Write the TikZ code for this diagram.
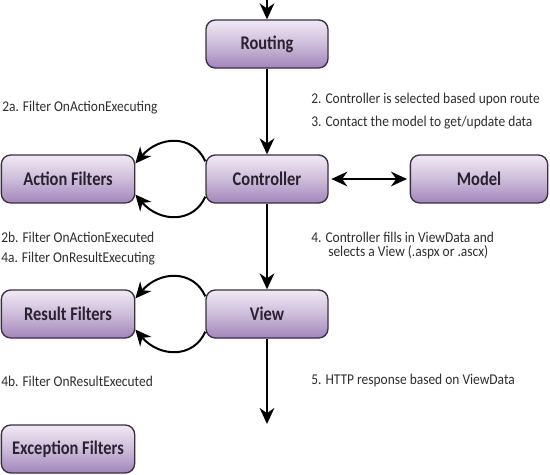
\documentclass[tikz,border=0pt]{standalone}
\usepackage{fontspec}
\setmainfont[FakeStretch=0.9]{Carlito}
\newfontfamily\boxfont[FakeStretch=0.85]{Carlito}
\usetikzlibrary{arrows.meta,calc}
\definecolor{boxtop}{HTML}{F1E9F5}
\definecolor{boxbot}{HTML}{A285BA}
\definecolor{boxline}{HTML}{3A3040}
\definecolor{txt}{HTML}{2E2E2E}
\definecolor{boxtxt}{HTML}{2A2230}
\tikzset{
  stepbox/.style={draw=boxline, line width=1pt, rounded corners=7pt,
    top color=boxtop, bottom color=boxbot, middle color=boxtop!55!boxbot,
    minimum width=91.5pt, minimum height=36pt, inner sep=0pt,
    font=\boxfont\bfseries\fontsize{14.5pt}{16pt}\selectfont, text=boxtxt},
  widebox/.style={stepbox, minimum width=100pt},
  lbl/.style={font=\fontsize{11.2pt}{12pt}\selectfont, text=txt, anchor=west, inner sep=0pt},
  conn/.style={line width=1.5pt, -{Stealth[length=12pt,width=11pt]}},
  bothconn/.style={line width=1.5pt, {Stealth[length=12pt,width=11pt]}-{Stealth[length=12pt,width=11pt]}},
}
\begin{document}
\begin{tikzpicture}[x=0.75pt,y=-0.75pt]
\useasboundingbox (0,0) rectangle (550,475);
\node[stepbox] (routing) at (267,44) {Routing};
\node[stepbox] (ctrl) at (267,179) {Controller};
\node[widebox] (af) at (68,179) {Action Filters};
\node[stepbox, minimum width=103pt] (model) at (479,179) {Model};
\node[stepbox] (view) at (267,314) {View};
\node[widebox] (rf) at (68,314) {Result Filters};
\node[widebox] (ef) at (68,449) {Exception Filters};
\coordinate (top) at (267,-2);
\coordinate (bottom) at (267,424);

\draw[conn] (top) -- (routing.north);
\draw[conn] (routing) -- (ctrl);
\draw[conn] (ctrl) -- (view);
\draw[conn] (view.south) -- (bottom);
\draw[bothconn] ($(ctrl.east)+(2pt,0)$) -- ($(model.west)+(-2pt,0)$);

\draw[conn] (ctrl.164) .. controls +(-12,-27) and +(24,-28) .. (af.13);
\draw[conn] (ctrl.196) .. controls +(-12,27) and +(24,28) .. (af.347);
\draw[conn] (view.164) .. controls +(-12,-27) and +(24,-28) .. (rf.13);
\draw[conn] (view.196) .. controls +(-12,27) and +(24,28) .. (rf.347);

\node[lbl] (l2a) at (2,108) {2a. Filter OnActionExecuting};
\node[lbl] (l2) at (311,100) {2. Controller is selected based upon route};
\node[lbl] (l3) at (311,123) {3. Contact the model to get/update data};
\node[lbl] (l2b) at (1,237) {2b. Filter OnActionExecuted};
\node[lbl] (l4a) at (1,259) {4a. Filter OnResultExecuting};
\node[lbl] (l4) at (311,237) {4. Controller fills in ViewData and};
\node[lbl] (l4x) at (328,252) {selects a View (.aspx or .ascx)};
\node[lbl] (l4b) at (1,381) {4b. Filter OnResultExecuted};
\node[lbl] (l5) at (311,381) {5. HTTP response based on ViewData};
\end{tikzpicture}
\end{document}
